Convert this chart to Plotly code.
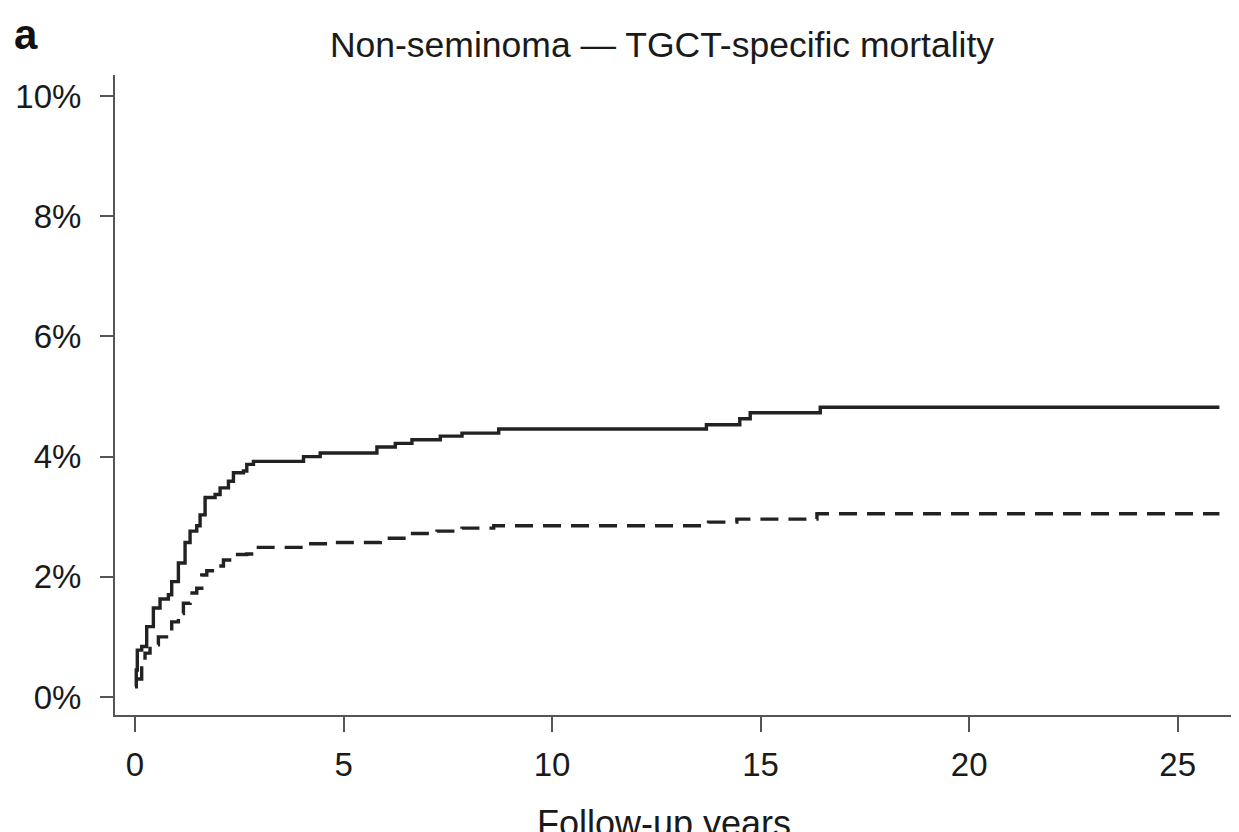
import plotly.graph_objects as go

# Data (cumulative mortality, %)
solid_x = [0.0, 0.03, 0.055, 0.16, 0.28, 0.44, 0.6, 0.8, 0.88, 1.04, 1.2, 1.32, 1.48, 1.56,
           1.68, 1.92, 2.04, 2.24, 2.36, 2.6, 2.68, 2.84, 4.04, 4.44, 5.8, 6.24, 6.64,
           7.32, 7.84, 8.72, 13.7, 14.5, 14.75, 16.43, 26.0]
solid_y = [0.17, 0.45, 0.78, 0.84, 1.17, 1.48, 1.63, 1.70, 1.92, 2.23, 2.57, 2.76, 2.85, 3.03,
           3.32, 3.37, 3.48, 3.59, 3.73, 3.76, 3.87, 3.92, 4.00, 4.06, 4.16, 4.22, 4.28,
           4.34, 4.39, 4.46, 4.53, 4.63, 4.73, 4.82, 4.82]

dashed_x = [0.03, 0.16, 0.24, 0.36, 0.56, 0.84, 0.88, 1.04, 1.16, 1.32, 1.48, 1.6, 1.72,
            1.92, 2.12, 2.32, 2.68, 2.84, 4.04, 4.68, 5.88, 6.6, 7.24, 7.84, 8.6, 13.75,
            14.43, 16.35, 26.0]
dashed_y = [0.30, 0.53, 0.73, 0.87, 1.00, 1.09, 1.25, 1.39, 1.56, 1.73, 1.81, 2.03, 2.10,
            2.18, 2.28, 2.37, 2.38, 2.49, 2.55, 2.57, 2.64, 2.72, 2.76, 2.81, 2.85, 2.91,
            2.96, 3.05, 3.05]

x_ticks = [0, 5, 10, 15, 20, 25]
y_ticks = [0, 2, 4, 6, 8, 10]
y_ticklabels = ["0%", "2%", "4%", "6%", "8%", "10%"]

FONT = "Liberation Sans, Arial, Helvetica, sans-serif"
INK = "#1a1a1a"
AXIS = "#555555"

ML, MT, PW, PH = 107, 67, 1124, 640

fig = go.Figure()
fig.add_trace(go.Scatter(x=solid_x, y=solid_y, mode="lines", line_shape="hv",
                         line=dict(color="#222222", width=3.4), showlegend=False,
                         hoverinfo="skip"))
fig.add_trace(go.Scatter(x=dashed_x, y=dashed_y, mode="lines", line_shape="hv",
                         line=dict(color="#222222", width=3.4, dash="18px,10px"),
                         showlegend=False, hoverinfo="skip"))

fig.update_layout(
    width=1239, height=832,
    margin=dict(l=ML, r=1239 - ML - PW, t=MT, b=832 - MT - PH, autoexpand=False),
    paper_bgcolor="white", plot_bgcolor="white",
    font=dict(family=FONT, color=INK),
    title=dict(text="Non-seminoma — TGCT-specific mortality", x=654/1239, xref="container",
               xanchor="center", y=1 - 37/832, yanchor="middle",
               font=dict(size=35.5, family=FONT, color=INK)),
    xaxis=dict(range=[-0.48, 26.47], tickmode="array", tickvals=x_ticks,
               showgrid=False, zeroline=False, showline=True, linecolor=AXIS,
               linewidth=2, ticks="outside", ticklen=15, tickwidth=2, tickcolor=AXIS,
               ticklabelstandoff=4,
               tickfont=dict(size=33, family=FONT, color=INK)),
    yaxis=dict(range=[-0.30, 10.35], tickmode="array", tickvals=y_ticks,
               ticktext=y_ticklabels, showgrid=False, zeroline=False, showline=True,
               linecolor=AXIS, linewidth=2, ticks="outside", ticklen=13, tickwidth=2,
               tickcolor=AXIS, ticklabelstandoff=12,
               tickfont=dict(size=33, family=FONT, color=INK)),
    annotations=[
        dict(text="<b>a</b>", xref="paper", yref="paper", x=(18 - ML)/PW, y=1 + (MT - 26)/PH,
             xanchor="center", yanchor="middle", showarrow=False,
             font=dict(size=42, family=FONT, color="#111111")),
        dict(text="Follow-up years", xref="paper", yref="paper", x=(656 - ML)/PW,
             y=-(793 - (MT + PH))/PH, xanchor="center", yanchor="top", showarrow=False,
             font=dict(size=36, family=FONT, color=INK)),
    ],
)

fig.write_html("out.html")
